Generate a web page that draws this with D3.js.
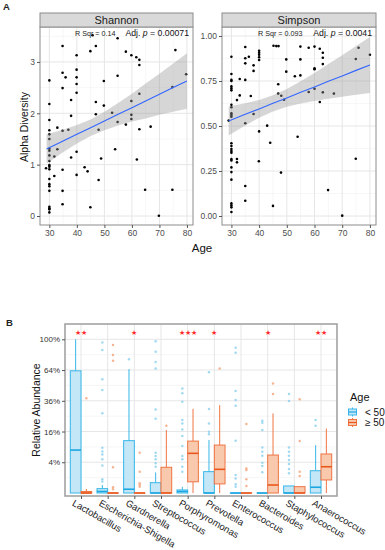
<!DOCTYPE html>
<html><head><meta charset="utf-8">
<script src="https://cdn.jsdelivr.net/npm/d3@7"></script>
<style>body{margin:0;background:#fff;} text{font-family:"Liberation Sans",Arial,sans-serif;}</style>
</head><body><svg id="c" width="385" height="550"></svg>
<script>
// ---------------- Panel A data ----------------
const shannonPts = [[45.7,3.52],[54.8,3.46],[34.8,3.31],[46.9,3.31],[44.9,3.21],[75.8,3.23],[57.8,3.20],[59.8,3.13],[61.6,3.09],[62.7,3.04],[62.7,2.94],[39.9,3.13],[39.9,2.85],[39.9,2.70],[39.9,2.57],[39.9,2.40],[34.8,2.79],[35.9,2.70],[34.8,2.49],[30,2.64],[54.8,2.73],[49.8,2.63],[79.7,2.76],[74.7,2.51],[37.9,2.26],[30,2.18],[46.9,2.22],[49.8,2.15],[59.8,2.24],[62.7,2.38],[46.9,1.98],[52.8,2.01],[59.8,1.97],[59.8,1.89],[37.9,1.95],[30,1.87],[54.8,1.83],[57.8,1.78],[32.9,1.72],[30,1.67],[30,1.59],[34.8,1.66],[36.9,1.68],[47.9,1.68],[62.7,1.69],[66.8,1.74],[30,1.50],[30,1.31],[30,1.27],[32.9,1.30],[39.9,1.25],[53.9,1.30],[30,1.18],[31.8,1.16],[37.9,1.14],[48.8,1.12],[61.8,1.10],[30,1.07],[30,0.99],[28.8,0.93],[30,0.91],[30,0.96],[34.8,0.90],[42.8,0.95],[43.9,0.87],[39.9,0.80],[31.8,0.78],[30,0.72],[47.9,0.70],[30,0.62],[30,0.58],[30,0.49],[34.8,0.49],[64.8,0.51],[74.7,0.51],[34.8,0.23],[44.9,0.17],[30,0.18],[30,0.15],[30,0.13],[30,0.07],[69.8,0.005]];
const simpsonPts = [[35,0.939],[40,0.918],[40,0.907],[40,0.896],[40,0.882],[40,0.867],[45.2,0.946],[46.2,0.944],[47,0.944],[54.9,0.941],[57.9,0.935],[60,0.941],[61.9,0.929],[63,0.907],[63,0.879],[63,0.844],[75.9,0.935],[80,0.896],[74.9,0.872],[30,0.885],[35,0.876],[35,0.848],[36.3,0.885],[38,0.837],[38,0.806],[49.8,0.870],[54.9,0.870],[49.8,0.802],[60,0.82],[60,0.815],[30,0.789],[30,0.756],[30,0.75],[33,0.761],[35,0.756],[52.9,0.776],[54.9,0.781],[46.9,0.732],[30,0.72],[30,0.709],[30,0.698],[33,0.670],[32,0.644],[37,0.667],[46.9,0.68],[48,0.668],[49,0.646],[57.9,0.689],[60,0.707],[63,0.687],[67,0.68],[61.9,0.633],[30,0.618],[30,0.604],[30,0.571],[30,0.561],[30,0.552],[38,0.567],[35,0.515],[42.9,0.502],[40,0.47],[44,0.407],[53.9,0.44],[30,0.404],[30,0.389],[30,0.372],[30,0.361],[30,0.352],[30,0.317],[30,0.309],[32,0.317],[32,0.298],[39.9,0.304],[30,0.27],[30,0.244],[47.9,0.241],[74.9,0.318],[30,0.202],[35,0.167],[35,0.085],[64.9,0.144],[30,0.07],[30,0.059],[30,0.048],[45,0.056],[30,0.022],[70,0.002],[29,0.53]];
const fitAge     = [29, 35, 40, 45, 50, 55, 60, 65, 70, 75, 80];
const shannonFit = [1.305,1.46,1.59,1.72,1.85,1.98,2.11,2.24,2.37,2.50,2.63];
const shannonLo  = [1.02,1.24,1.41,1.56,1.67,1.76,1.84,1.90,1.97,2.03,2.09];
const shannonHi  = [1.59,1.68,1.77,1.88,2.03,2.20,2.38,2.58,2.77,2.97,3.17];
const simpsonFit = [0.528,0.565,0.595,0.626,0.656,0.687,0.717,0.748,0.778,0.809,0.839];
const simpsonLo  = [0.447,0.503,0.546,0.581,0.607,0.625,0.639,0.652,0.663,0.674,0.684];
const simpsonHi  = [0.609,0.627,0.645,0.671,0.706,0.749,0.795,0.844,0.893,0.944,0.994];
const shannonTicks = [0,1,2,3];
const simpsonTicks = [0,0.25,0.5,0.75,1];
const ageTicks = [30,40,50,60,70,80];

// ---------------- Panel B data ----------------
const taxa = ["Lactobacillus","Escherichia-Shigella","Gardnerella","Streptococcus","Porphyromonas","Prevotella","Enterococcus","Bacteroides","Staphylococcus","Anaerococcus"];
const signif = ["**","","*","","***","*","","*","","**"];
const ageGroups = ["< 50","\u2265 50"];
// box stats (relative abundance fraction): [lowWhisker, q1, median, q3, highWhisker]
const youngStats = [[0,0,0.078,0.632,1.0],[0,0,0.0001,0.0008,0.0027],[0,0,0.0006,0.116,0.65],[0,0,0,0.0045,0.018],[0,0,0.0001,0.0004,0.0016],[0,0,0,0.0193,0.119],[0,0,0,0,0],[0,0,0,0,0],[0,0,0,0.0021,0.0021],[0,0,0.0014,0.021,0.097]];
const oldStats   = [[0,0,0,0.0001,0.0007],[0,0,0,0,0],[0,0,0,0,0],[0,0,0,0.028,0.168],[0,0.0053,0.0666,0.114,0.30],[0,0.0035,0.0237,0.0973,0.327],[0,0,0,0,0],[0,0,0.0027,0.061,0.268],[0,0,0,0.0017,0.0017],[0,0.0072,0.0292,0.0645,0.176]];
const youngOut = [[],[0.96,0.865,0.548,0.449,0.27,0.087,0.073,0.0625,0.048,0.032,0.0081,0.0056],[0.757],[0.974,0.846,0.726,0.656,0.296,0.233,0.0686,0.0576,0.0484,0.0372,0.0292],[0.462,0.421,0.353,0.226,0.205,0.171,0.138,0.0936,0.0576,0.048,0.0292,0.0193],[0.616,0.298,0.205,0.159,0.146],[0.893,0.834,0.44,0.366,0.323,0.116,0.0137,0.009,0.0032,0.0017],[0.221,0.209,0.168,0.088,0.072,0.059,0.0388,0.031,0.0182],[0.415,0.358,0.088,0.072,0.059,0.046,0.0357,0.0243,0.0164],[0.226,0.192]];
const oldOut   = [[0.38],[0.927,0.806,0.74,0.028,0.0014,0.0006],[0.0686,0.0193,0.004,0.0027,0.0017],[0.192],[],[0.656],[0.202,0.0256,0.0225,0.0079,0.0021],[0.508,0.415],[0.373,0.114,0.0193,0.0123],[]];
const pctTicks = [0.04,0.16,0.36,0.64,1];
const pctMinor = [0.01,0.09,0.25,0.49,0.81];

const svg = d3.select("#c");
svg.append("rect").attr("width",385).attr("height",550).attr("fill","#fff");

// ---------- Panel A ----------
function panelA(cfg){
  const g = svg.append("g");
  const top=27, bot=225;
  const x = d3.scaleLinear().domain([26.6,82.2]).range([cfg.x0,cfg.x1]);
  const y = d3.scaleLinear().domain(cfg.yDomain).range([bot,top]);
  g.append("rect").attr("x",cfg.x0).attr("y",top).attr("width",cfg.x1-cfg.x0).attr("height",bot-top).attr("fill","#fff");
  const minorX = [35,45,55,65,75];
  minorX.forEach(v=>g.append("line").attr("x1",x(v)).attr("x2",x(v)).attr("y1",top).attr("y2",bot).attr("stroke","#F2F2F2").attr("stroke-width",0.6));
  cfg.yMinor.forEach(v=>g.append("line").attr("y1",y(v)).attr("y2",y(v)).attr("x1",cfg.x0).attr("x2",cfg.x1).attr("stroke","#F2F2F2").attr("stroke-width",0.6));
  ageTicks.forEach(v=>g.append("line").attr("x1",x(v)).attr("x2",x(v)).attr("y1",top).attr("y2",bot).attr("stroke","#E6E6E6").attr("stroke-width",1));
  cfg.yTicks.forEach(v=>g.append("line").attr("y1",y(v)).attr("y2",y(v)).attr("x1",cfg.x0).attr("x2",cfg.x1).attr("stroke","#E6E6E6").attr("stroke-width",1));
  g.selectAll("circle.pt").data(cfg.pts).enter().append("circle").attr("cx",d=>x(d[0])).attr("cy",d=>y(d[1])).attr("r",1.3).attr("fill","#000");
  const idx = d3.range(fitAge.length);
  g.append("path").datum(idx).attr("d",d3.area().x(i=>x(fitAge[i])).y0(i=>y(cfg.lo[i])).y1(i=>y(cfg.hi[i]))).attr("fill","#999").attr("fill-opacity",0.4);
  g.append("path").datum(idx).attr("d",d3.line().x(i=>x(fitAge[i])).y(i=>y(cfg.fit[i]))).attr("fill","none").attr("stroke","#3366FF").attr("stroke-width",1.1);
  g.append("rect").attr("x",cfg.x0).attr("y",top).attr("width",cfg.x1-cfg.x0).attr("height",bot-top).attr("fill","none").attr("stroke","#8C8C8C").attr("stroke-width",1);
  // strip
  g.append("rect").attr("x",cfg.x0).attr("y",13).attr("width",cfg.x1-cfg.x0).attr("height",14).attr("fill","#D9D9D9").attr("stroke","#8C8C8C").attr("stroke-width",1);
  g.append("text").attr("x",(cfg.x0+cfg.x1)/2).attr("y",24).attr("text-anchor","middle").attr("font-size",11).attr("fill","#1A1A1A").text(cfg.title);
  // annotation
  g.append("text").attr("x",cfg.rsqX).attr("y",35.5).attr("font-size",7.2).attr("fill","#222").text("R Sqr = "+cfg.rsq);
  const t = g.append("text").attr("x",cfg.x1-4).attr("y",36).attr("text-anchor","end").attr("font-size",8.7).attr("fill","#111");
  t.append("tspan").text("Adj. ");
  t.append("tspan").attr("font-style","italic").text("p");
  t.append("tspan").text(" = "+cfg.p);
  // axes
  const ax = g.append("g").attr("transform",`translate(0,${bot})`).call(d3.axisBottom(x).tickValues(ageTicks).tickSize(3).tickPadding(2));
  const ay = g.append("g").attr("transform",`translate(${cfg.x0},0)`).call(d3.axisLeft(y).tickValues(cfg.yTicks).tickFormat(cfg.fmt).tickSize(3).tickPadding(2));
  [ax,ay].forEach(a=>{a.select(".domain").remove();a.selectAll("line").attr("stroke","#555");a.selectAll("text").attr("font-size",8.5).attr("fill","#4D4D4D").attr("font-family","Liberation Sans, Arial, sans-serif");});
}
panelA({x0:40,x1:193,yDomain:[-0.175,3.68],pts:shannonPts,fit:shannonFit,lo:shannonLo,hi:shannonHi,yTicks:shannonTicks,yMinor:[0.5,1.5,2.5,3.5],fmt:d3.format("d"),title:"Shannon",rsq:"0.14",p:"0.00071",rsqX:75});
panelA({x0:222,x1:376,yDomain:[-0.05,1.05],pts:simpsonPts,fit:simpsonFit,lo:simpsonLo,hi:simpsonHi,yTicks:simpsonTicks,yMinor:[0.125,0.375,0.625,0.875],fmt:d3.format(".2f"),title:"Simpson",rsq:"0.093",p:"0.0041",rsqX:258});
svg.append("text").attr("x",202).attr("y",252).attr("text-anchor","middle").attr("font-size",11.5).attr("fill","#111").text("Age");
svg.append("text").attr("transform","translate(28,127) rotate(-90)").attr("text-anchor","middle").attr("font-size",10.5).attr("fill","#111").text("Alpha Diversity");
svg.append("text").attr("x",3).attr("y",10).attr("font-family","Liberation Serif, Times New Roman, serif").attr("font-weight","bold").attr("font-size",9.5).attr("fill","#222").text("A");

// ---------- Panel B ----------
const bx0=65,bx1=337,by0=324,by1=496;
const xB = d3.scalePoint().domain(taxa).range([bx0,bx1]).padding(0.6);
const yB = d3.scaleSqrt().domain([-0.00038,1.209]).range([by1,by0]);
const gB = svg.append("g");
gB.append("rect").attr("x",bx0).attr("y",by0).attr("width",bx1-bx0).attr("height",by1-by0).attr("fill","#fff");
pctMinor.forEach(v=>gB.append("line").attr("x1",bx0).attr("x2",bx1).attr("y1",yB(v)).attr("y2",yB(v)).attr("stroke","#F2F2F2").attr("stroke-width",0.7));
pctTicks.forEach(v=>gB.append("line").attr("x1",bx0).attr("x2",bx1).attr("y1",yB(v)).attr("y2",yB(v)).attr("stroke","#E6E6E6").attr("stroke-width",1));
taxa.forEach(t=>gB.append("line").attr("x1",xB(t)).attr("x2",xB(t)).attr("y1",by0).attr("y2",by1).attr("stroke","#E6E6E6").attr("stroke-width",1));

const groups = [
  {stats:youngStats,out:youngOut,off:-5.35,line:"#38B6E8",fill:"#C4E7F7",med:"#1AA6E2",pt:"#8FD2F0"},
  {stats:oldStats,out:oldOut,off:5.35,line:"#EE7443",fill:"#F9C9AE",med:"#E9571C",pt:"#F4A77F"}
];
const bw = 10.7;
groups.forEach(gr=>{
  taxa.forEach((t,i)=>{
    const [lo,q1,md,q3,hi] = gr.stats[i];
    const cx = xB(t)+gr.off;
    gB.append("line").attr("x1",cx).attr("x2",cx).attr("y1",yB(hi)).attr("y2",yB(q3)).attr("stroke",gr.line).attr("stroke-width",1);
    gB.append("line").attr("x1",cx).attr("x2",cx).attr("y1",yB(q1)).attr("y2",yB(lo)).attr("stroke",gr.line).attr("stroke-width",1);
    gB.append("rect").attr("x",cx-bw/2).attr("y",yB(q3)).attr("width",bw).attr("height",Math.max(0.01,yB(q1)-yB(q3))).attr("fill",gr.fill).attr("stroke",gr.line).attr("stroke-width",1);
    gB.append("line").attr("x1",cx-bw/2).attr("x2",cx+bw/2).attr("y1",yB(md)).attr("y2",yB(md)).attr("stroke",gr.med).attr("stroke-width",1.6);
    gr.out[i].forEach(v=>gB.append("circle").attr("cx",cx).attr("cy",yB(v)).attr("r",1.25).attr("fill",gr.pt).attr("fill-opacity",0.85));
  });
});
gB.append("rect").attr("x",bx0).attr("y",by0).attr("width",bx1-bx0).attr("height",by1-by0).attr("fill","none").attr("stroke","#A3A3A3").attr("stroke-width",1.6);
taxa.forEach((t,i)=>{
  if(signif[i]) gB.append("text").attr("x",xB(t)).attr("y",335).attr("text-anchor","middle").attr("font-family","DejaVu Sans").attr("font-size",6.8).attr("fill","#FF2A2A").text(signif[i].replace(/\*/g,"\u2605"));
});
const axB = gB.append("g").attr("transform",`translate(${bx0},0)`).call(d3.axisLeft(yB).tickValues(pctTicks).tickFormat(d3.format(".0%")).tickSize(3).tickPadding(2));
axB.select(".domain").remove(); axB.selectAll("line").attr("stroke","#555");
axB.selectAll("text").attr("font-size",8).attr("fill","#333").attr("font-family","Liberation Sans, Arial, sans-serif");
const axX = gB.append("g").attr("transform",`translate(0,${by1})`).call(d3.axisBottom(xB).tickSize(3).tickFormat(""));
axX.select(".domain").remove(); axX.selectAll("line").attr("stroke","#555");
taxa.forEach(t=>gB.append("text").attr("transform",`translate(${xB(t)-6},499) rotate(30)`).attr("dy","0.72em").attr("font-size",9.5).attr("fill","#222").text(t));
svg.append("text").attr("transform","translate(39.5,410) rotate(-90)").attr("text-anchor","middle").attr("font-size",10.5).attr("fill","#111").text("Relative Abundance");
svg.append("text").attr("x",6).attr("y",326).attr("font-family","Liberation Serif, Times New Roman, serif").attr("font-weight","bold").attr("font-size",9.5).attr("fill","#222").text("B");
// legend
svg.append("text").attr("x",350).attr("y",401).attr("font-size",11).attr("fill","#111").text("Age");
groups.forEach((gr,k)=>{
  const cy = 412 + k*10.5;
  svg.append("line").attr("x1",352.5).attr("x2",352.5).attr("y1",cy-4.5).attr("y2",cy+4.5).attr("stroke",gr.line);
  svg.append("rect").attr("x",348.5).attr("y",cy-3).attr("width",8).attr("height",6).attr("fill",gr.fill).attr("stroke",gr.line);
  svg.append("line").attr("x1",348.5).attr("x2",356.5).attr("y1",cy).attr("y2",cy).attr("stroke",gr.med).attr("stroke-width",1.2);
  svg.append("text").attr("x",365).attr("y",cy+3.5).attr("font-size",10).attr("fill","#111").text(ageGroups[k]);
});
</script></body></html>
